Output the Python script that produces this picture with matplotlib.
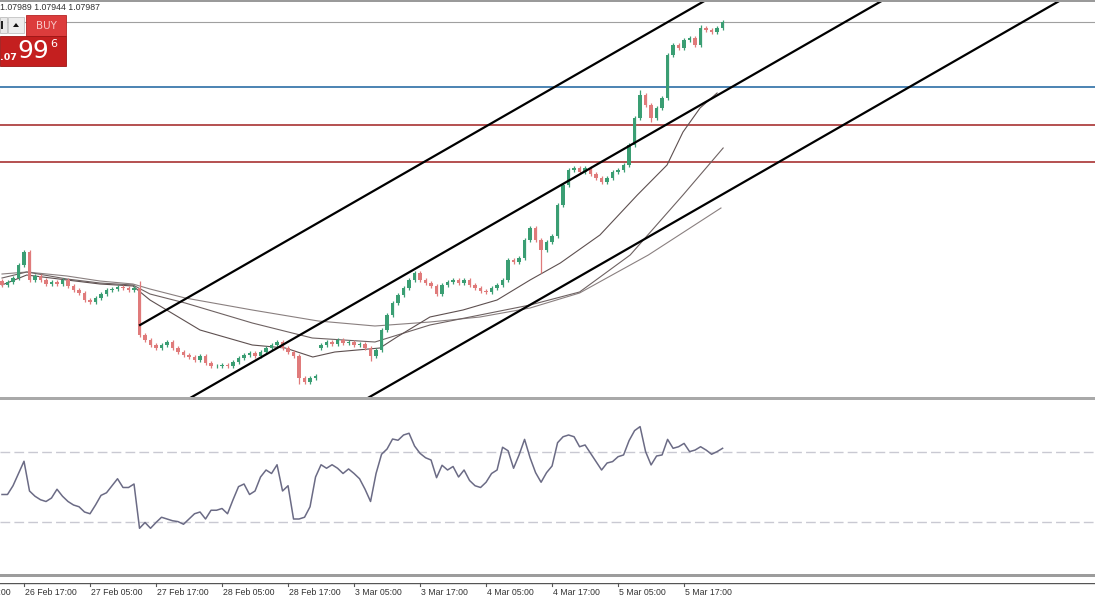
import numpy as np
import matplotlib.pyplot as plt
from matplotlib.patches import Rectangle, Polygon

# ---------------------------------------------------------
# data (H1 bars, bar 0 = 26 Feb 13:00)
# ---------------------------------------------------------
closes = [
    1.04832, 1.04868, 1.04916, 1.05072, 1.05228, 1.04892, 1.04940, 1.04892, 1.04844, 1.04868,
    1.04844, 1.04892, 1.04820, 1.04772, 1.04736, 1.04652, 1.04628, 1.04676, 1.04724, 1.04772,
    1.04784, 1.04808, 1.04796, 1.04772, 1.04796, 1.04232, 1.04172, 1.04112, 1.04076, 1.04112,
    1.04148, 1.04076, 1.04028, 1.03992, 1.03968, 1.03932, 1.03980, 1.03896, 1.03860, 1.03860,
    1.03872, 1.03860, 1.03908, 1.03956, 1.03992, 1.04016, 1.03980, 1.04028, 1.04076, 1.04112,
    1.04148, 1.04076, 1.04028, 1.03980, 1.03716, 1.03668, 1.03716, 1.03740, 1.04112, 1.04148,
    1.04124, 1.04172, 1.04136, 1.04148, 1.04112, 1.04124, 1.04076, 1.03980, 1.04052, 1.04292,
    1.04472, 1.04616, 1.04712, 1.04796, 1.04892, 1.04976, 1.04892, 1.04856, 1.04820, 1.04724,
    1.04832, 1.04868, 1.04892, 1.04856, 1.04892, 1.04832, 1.04796, 1.04760, 1.04748, 1.04796,
    1.04832, 1.04892, 1.05132, 1.05108, 1.05156, 1.05372, 1.05516, 1.05372, 1.05252, 1.05348,
    1.05420, 1.05792, 1.06032, 1.06212, 1.06236, 1.06188, 1.06236, 1.06164, 1.06116, 1.06068,
    1.06116, 1.06188, 1.06212, 1.06272, 1.06512, 1.06836, 1.07112, 1.06992, 1.06836, 1.06956,
    1.07076, 1.07592, 1.07712, 1.07676, 1.07772, 1.07796, 1.07712, 1.07916, 1.07892, 1.07868,
    1.07916, 1.07987,
]
first_open = 1.04880
gap_opens = {58: 1.04080}          # monday open after weekend gap
high_marks = {4: 1.05252, 25: 1.04880, 75: 1.05000, 116: 1.07172, 127: 1.07950}
low_marks = {54: 1.03640, 98: 1.04976, 118: 1.06788, 67: 1.03920}

# moving averages: (bar, price)
ma_fast_t = [0, 4.5, 11.8, 17.8, 23.8, 26.9, 36, 45.5, 51.5, 56.5, 60.5, 68.7, 71.8, 77.8,
             83.8, 90, 96, 101.5, 108.7, 115.5, 120.9, 123.8, 126.9, 130]
ma_fast_v = [1.04832, 1.04952, 1.04892, 1.04844, 1.04820, 1.04652, 1.04292, 1.04112, 1.04076,
             1.03968, 1.04028, 1.04076, 1.04208, 1.04448, 1.04532, 1.04652, 1.04892, 1.05096,
             1.05432, 1.05912, 1.06272, 1.06668, 1.06956, 1.07136]
ma_mid_t = [0, 4.5, 11.8, 17.8, 23.8, 26.9, 33.3, 45.5, 56.4, 67.8, 77.8, 86.9, 96, 105,
            114.2, 123.8, 131.1]
ma_mid_v = [1.04916, 1.04988, 1.04904, 1.04856, 1.04832, 1.04724, 1.04616, 1.04376, 1.04196,
            1.04148, 1.04352, 1.04472, 1.04592, 1.04748, 1.05192, 1.05912, 1.06476]
ma_slow_t = [0, 4.5, 11.8, 17.8, 23.8, 26.9, 33.3, 45.5, 57.5, 67.8, 77.8, 86.9, 96, 105,
             117.5, 130.7]
ma_slow_v = [1.04964, 1.04988, 1.04940, 1.04880, 1.04844, 1.04784, 1.04676, 1.04532, 1.04400,
             1.04340, 1.04388, 1.04448, 1.04556, 1.04736, 1.05192, 1.05756]

# equidistant channel: start bar, prices of the three lines at start, slope per bar
channel_start = 25.1
channel_prices = [1.04352, 1.03131, 1.01907]
channel_slope = 0.000379

level_blue = [1.07208]
level_red = [1.06752, 1.06308]
bid = 1.07987

rsi = [46, 46, 51, 58, 65, 48, 45, 43, 42, 44, 49, 45, 42, 40, 39, 36, 35, 40, 45.5, 47,
       51, 55, 50, 50, 52, 26.7, 30, 26.7, 30, 33, 32, 31, 30.5, 29, 32, 35, 36, 32, 37, 37,
       38, 35, 43, 50.5, 52, 46, 48, 56, 60, 58, 63, 48, 51, 32, 32, 33, 39, 56, 63, 61,
       63, 61, 58, 60.6, 58, 55, 49, 42, 58, 69, 72, 77.7, 77, 80, 81, 73.7, 69.5, 67, 65.7, 55.6,
       62.7, 60, 62, 56, 60, 54, 51, 50, 53, 58, 60, 73, 71, 61, 68.6, 77.5, 67, 58.5, 53, 58.5,
       62.3, 75.6, 79, 80, 79, 73.3, 74.3, 69.5, 64.8, 60, 64, 64.8, 67.6, 68.6, 76.8, 82.5, 84.8, 70.5, 62.9, 68,
       68.6, 77.5, 72.4, 73.3, 75.2, 70.5, 71.4, 73.3, 71.4, 69, 70.5, 72.4]

tick_bars = [-8, 4, 16, 28, 40, 52, 64, 76, 88, 100, 112, 124]
tick_labels = ["26 Feb 05:00", "26 Feb 17:00", "27 Feb 05:00", "27 Feb 17:00", "28 Feb 05:00",
               "28 Feb 17:00", "3 Mar 05:00", "3 Mar 17:00", "4 Mar 05:00", "4 Mar 17:00",
               "5 Mar 05:00", "5 Mar 17:00"]

# ---------------------------------------------------------
closes = np.array(closes)
n = len(closes)
bars = np.arange(n)
opens = np.r_[first_open, closes[:-1]]
for k, v in gap_opens.items():
    opens[k] = v
top = np.maximum(opens, closes)
bot = np.minimum(opens, closes)
highs = top + 0.00022
lows = bot - 0.00022
for k, v in high_marks.items():
    highs[k] = max(highs[k], v)
for k, v in low_marks.items():
    lows[k] = min(lows[k], v)

W, H = 1095, 600
fig = plt.figure(figsize=(W / 100, H / 100), dpi=100)
fig.patch.set_facecolor('white')
xlim = (-0.364, 198.7)

def px_ax(y0, y1):
    return fig.add_axes([0, 1 - y1 / H, 1, (y1 - y0) / H])

# main price panel
ax = px_ax(2, 397)
ax.set_xlim(*xlim)
ax.set_ylim(1.03488, 1.08228)
ax.axis('off')

bull = closes >= opens
col_up, col_dn = '#3a9e73', '#e07b7b'
colors = np.where(bull, col_up, col_dn)
ax.vlines(bars, lows, highs, colors=colors, lw=0.9, zorder=3)
ax.bar(bars, np.maximum(top - bot, 0.00004), bottom=bot, width=0.6, color=colors,
       linewidth=0, zorder=4)

ax.plot(ma_slow_t, ma_slow_v, color='#8a8080', lw=0.8, zorder=2)
ax.plot(ma_mid_t, ma_mid_v, color='#6e6262', lw=0.8, zorder=2)
ax.plot(ma_fast_t, ma_fast_v, color='#5e5050', lw=0.8, zorder=2)

for p in level_blue:
    ax.axhline(p, color='#2c6ea6', lw=1.2, zorder=1)
for p in level_red:
    ax.axhline(p, color='#a83232', lw=1.2, zorder=1)
ax.axhline(bid, color='#a0a0a0', lw=0.8, zorder=1)

x_end = xlim[1]
for p0 in channel_prices:
    ax.plot([channel_start, x_end], [p0, p0 + channel_slope * (x_end - channel_start)],
            color='black', lw=1.6, zorder=5)

# RSI panel
ax2 = px_ax(400, 574)
ax2.set_xlim(*xlim)
ax2.set_ylim(0.57, 100)
ax2.axis('off')
for lvl in (30, 70):
    ax2.axhline(lvl, color='#c9c9d2', lw=1.0, dashes=(7, 3))
ax2.plot(bars, rsi, color='#6b6b85', lw=1.1)

# time axis
ax3 = px_ax(583, 600)
ax3.set_xlim(*xlim)
ax3.set_ylim(0, 1)
ax3.axis('off')
ax3.axhline(1, color='#555555', lw=1.0)
for b, lab in zip(tick_bars, tick_labels):
    ax3.plot([b, b], [1, 0.82], color='#555555', lw=0.8, clip_on=False)
    ax3.text(b + 0.15, 0.45, lab, fontsize=6.3, family='Liberation Sans', color='#333333',
             ha='left', va='center', clip_on=True)

# overlay in pixel coordinates: separators, header text, trade widget
ov = fig.add_axes([0, 0, 1, 1], zorder=10)
ov.set_xlim(0, W)
ov.set_ylim(H, 0)
ov.axis('off')
ov.add_patch(Rectangle((0, 0), W, 1.5, color='#9a9a9a', lw=0))
ov.add_patch(Rectangle((0, 397), W, 3, color='#a9a9a9', lw=0))
ov.add_patch(Rectangle((0, 574), W, 3, color='#9c9c9c', lw=0))
ov.text(0, 8, "1.07989 1.07944 1.07987", fontsize=6.3, family='Liberation Sans',
        color='#333333', ha='left', va='center')

ov.add_patch(Rectangle((0, 17), 7, 16, facecolor='#e9e9e9', edgecolor='#bdbdbd', lw=0.6))
ov.add_patch(Rectangle((1, 21), 2, 8, color='#222222', lw=0))
ov.add_patch(Rectangle((8, 17), 16, 16, facecolor='#ededed', edgecolor='#c2c2c2', lw=0.6))
ov.add_patch(Polygon([(13, 27), (19, 27), (16, 23)], closed=True, color='#111111', lw=0))
ov.add_patch(Rectangle((26, 15), 40, 21, facecolor='#dc3c3c', edgecolor='#b52424', lw=0.6))
ov.text(46, 26, "BUY", fontsize=7.5, color='#f8c8c8', ha='center', va='center')
ov.add_patch(Rectangle((0, 36), 66, 30, facecolor='#c41f1f', edgecolor='#9c1414', lw=0.6))
ov.text(0, 57, ".07", fontsize=6.8, color='white', ha='left', va='center', fontweight='bold')
ov.text(33, 51, "99", fontsize=18, color='white', ha='center', va='center')
ov.text(54, 44, "6", fontsize=8, color='white', ha='center', va='center')

fig.savefig('out.png', dpi=100, facecolor='white')
